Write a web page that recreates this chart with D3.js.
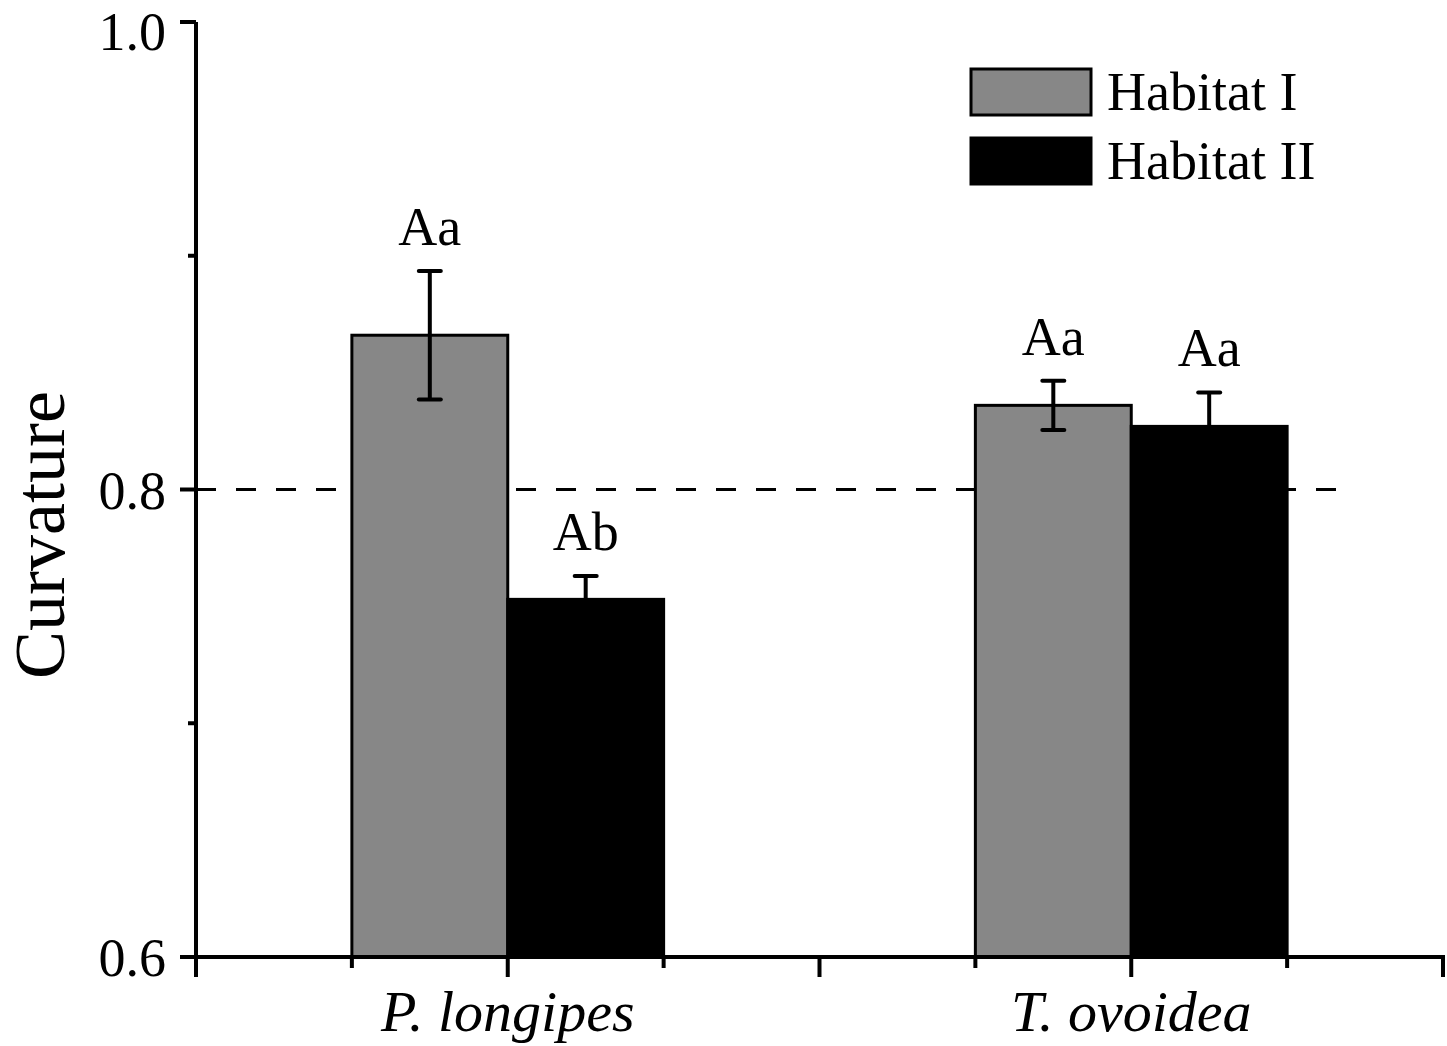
<!DOCTYPE html>
<html lang="en">
<head>
<meta charset="utf-8">
<title>Curvature by habitat</title>
<script src="https://d3js.org/d3.v7.min.js"></script>
<style>
  body { margin: 0; background: #fff; }
  text { font-family: "Liberation Serif", "Times New Roman", serif; fill: #000; }
</style>
</head>
<body>
<script>
// data
var species = ["P. longipes", "T. ovoidea"];
var habitats = ["Habitat I", "Habitat II"];
var means = [[0.866, 0.753], [0.836, 0.827]];
var errors = [[0.0275, 0.010], [0.0105, 0.0145]];
var letters = [["Aa", "Ab"], ["Aa", "Aa"]];
var yTicks = [0.6, 0.8, 1.0];
var yMinor = [0.7, 0.9];
var refLine = 0.8;

var w = 1447, h = 1046;
var colors = ["#878787", "#000000"];

var svg = d3.select("body").append("svg").attr("width", w).attr("height", h);

// x runs 0..4, species sit at 1 and 3, each bar half a unit wide
var x = d3.scaleLinear().domain([0, 4]).range([196, 1443]);
var y = d3.scaleLinear().domain([0.6, 1.0]).range([957, 22]);
var barW = 0.5;

// dashed reference line
svg.append("line")
  .attr("x1", x(0)).attr("x2", 1352)
  .attr("y1", y(refLine)).attr("y2", y(refLine))
  .attr("stroke", "#000").attr("stroke-width", 3)
  .attr("stroke-dasharray", "20,20");

var groups = svg.selectAll("g.sp").data(species).enter().append("g").attr("class", "sp");

groups.each(function(sp, i) {
  var g = d3.select(this);
  var cx = 1 + 2 * i;
  habitats.forEach(function(hb, j) {
    var x0 = cx - barW + j * barW;
    var v = means[i][j], e = errors[i][j];
    var mid = x((x0 + x0 + barW) / 2);
    g.append("rect")
      .attr("x", x(x0)).attr("y", y(v))
      .attr("width", x(x0 + barW) - x(x0))
      .attr("height", y(0.6) - y(v))
      .attr("fill", colors[j])
      .attr("stroke", "#000").attr("stroke-width", 3);
    // error bar (lower half hidden inside the black bars)
    var lowVisible = j === 0;
    var yLow = lowVisible ? y(v - e) : y(v);
    g.append("line").attr("x1", mid).attr("x2", mid)
      .attr("y1", y(v + e)).attr("y2", yLow)
      .attr("stroke", "#000").attr("stroke-width", 4);
    g.append("line").attr("x1", mid - 11).attr("x2", mid + 11)
      .attr("y1", y(v + e)).attr("y2", y(v + e))
      .attr("stroke", "#000").attr("stroke-width", 4).attr("stroke-linecap", "round");
    if (lowVisible) {
      g.append("line").attr("x1", mid - 11).attr("x2", mid + 11)
        .attr("y1", y(v - e)).attr("y2", y(v - e))
        .attr("stroke", "#000").attr("stroke-width", 4).attr("stroke-linecap", "round");
    }
    g.append("text")
      .attr("x", mid).attr("y", y(v + e) - 26)
      .attr("text-anchor", "middle")
      .attr("font-size", 54)
      .text(letters[i][j]);
  });
});

// y axis
var yAxis = svg.append("g").attr("transform", "translate(" + x(0) + ",0)");
yAxis.append("line").attr("x1", 0).attr("x2", 0).attr("y1", y(1.0)).attr("y2", y(0.6))
  .attr("stroke", "#000").attr("stroke-width", 4);
yAxis.selectAll("line.maj").data(yTicks).enter().append("line")
  .attr("x1", -16).attr("x2", 0).attr("y1", d => y(d)).attr("y2", d => y(d))
  .attr("stroke", "#000").attr("stroke-width", 4);
yAxis.selectAll("line.min").data(yMinor).enter().append("line")
  .attr("x1", -8).attr("x2", 0).attr("y1", d => y(d)).attr("y2", d => y(d))
  .attr("stroke", "#000").attr("stroke-width", 4);
yAxis.selectAll("text").data(yTicks).enter().append("text")
  .attr("x", -30).attr("y", d => Math.max(y(d) + 19, 50))
  .attr("text-anchor", "end").attr("font-size", 54)
  .text(d3.format(".1f"));

svg.append("text")
  .attr("transform", "translate(64,535) rotate(-90)")
  .attr("text-anchor", "middle").attr("font-size", 72)
  .text("Curvature");

// x axis
var xAxis = svg.append("g").attr("transform", "translate(0," + y(0.6) + ")");
xAxis.append("line").attr("x1", x(0) - 2).attr("x2", x(4) + 2).attr("y1", 0).attr("y2", 0)
  .attr("stroke", "#000").attr("stroke-width", 4);
xAxis.selectAll("line.maj").data(d3.range(0, 5)).enter().append("line")
  .attr("x1", d => x(d)).attr("x2", d => x(d)).attr("y1", 0).attr("y2", 20)
  .attr("stroke", "#000").attr("stroke-width", 4);
xAxis.selectAll("line.min").data(d3.range(0.5, 4, 1)).enter().append("line")
  .attr("x1", d => x(d)).attr("x2", d => x(d)).attr("y1", 0).attr("y2", 11)
  .attr("stroke", "#000").attr("stroke-width", 4);
xAxis.selectAll("text").data(species).enter().append("text")
  .attr("x", (d, i) => x(1 + 2 * i)).attr("y", 74)
  .attr("text-anchor", "middle").attr("font-size", 58).attr("font-style", "italic")
  .text(d => d);

// legend
var legend = svg.append("g").attr("transform", "translate(971,69)");
habitats.forEach(function(hb, j) {
  legend.append("rect")
    .attr("x", 0).attr("y", j * 69)
    .attr("width", 120).attr("height", 46)
    .attr("fill", colors[j]).attr("stroke", "#000").attr("stroke-width", 3);
  legend.append("text")
    .attr("x", 136).attr("y", j * 69 + 41)
    .attr("font-size", 54)
    .text(hb);
});
</script>
</body>
</html>
